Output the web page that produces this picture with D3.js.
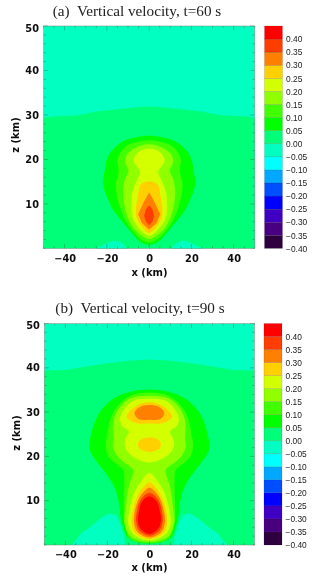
<!DOCTYPE html>
<html><head><meta charset="utf-8">
<script src="https://cdn.jsdelivr.net/npm/d3@7"></script>
<style>html,body{margin:0;padding:0;background:#fff}svg{display:block}</style>
</head><body><svg id="c" width="320" height="580"></svg>
<script>
// Colour key
const bandEdges = [-0.35,-0.30,-0.25,-0.20,-0.15,-0.10,-0.05,0,0.05,0.10,0.15,0.20,0.25,0.30,0.35,0.40];
const bandColors = ["#2e0040","#480080","#4000c4","#0000ff","#0050ff","#00a8ff","#00ffff","#00ffc0","#00ff78","#00ff00","#40ff00","#90ff00","#d4ff00","#ffd000","#ff8000","#ff3c00","#ff0000"];
const barTicks = [-0.40,-0.35,-0.30,-0.25,-0.20,-0.15,-0.10,-0.05,0,0.05,0.10,0.15,0.20,0.25,0.30,0.35,0.40];
const xMajor = [-40,-20,0,20,40];
const zMajor = [10,20,30,40,50];

// Contour outlines: right half, [x km, z km], top to bottom (field is symmetric about x=0)
const a000 = [[0,31.9],[5,31.8],[15,31.3],[25,30.8],[30,30.3],[35,29.9],[45,29.7],[50,29.4],[50,0],[0,0]];
const aLobe = [[10.5,-0.5],[10.5,0],[12,0.8],[14,1.5],[16.5,1.8],[19,1.4],[22,0.7],[25.5,0],[25.5,-0.5]];
const a005 = [[0,25.3],[6,25],[11.4,24.3],[16,22.8],[19.6,20.6],[21,17.6],[21.7,14.2],[20,11.6],[17,8.6],[12,5.6],[8.2,3.4],[4.3,1.5],[0,0.8]];
const a010 = [[0,24.3],[5,24],[9,23.5],[13,22],[15,19.9],[14.5,18],[14.5,17.2],[15.8,14.6],[15.5,12.5],[14,9.5],[12,7],[9.3,4.8],[6,2.9],[3,1.8],[0,1.35]];
const a015 = [[0,23.4],[4,23.1],[8,22.2],[10.6,21],[11.4,19.5],[9.8,17.4],[11.5,15.5],[12.3,13],[12,10.5],[10.5,7.5],[8,5],[5,3.4],[0,2.1]];
const a020 = [[0,22.4],[3.5,22.1],[6.3,21],[7.4,19.7],[5.8,18.4],[4.3,17.3],[5.4,15.7],[7.7,13.1],[8.5,10.1],[8,7.1],[5.5,4.9],[0,2.8]];
const a025 = [[0,15.1],[2.5,14.9],[4.3,14.2],[5.4,11.6],[6.3,8.6],[5.8,6.7],[3.5,4.9],[0,3.4]];
const a030 = [[0,12.6],[2.5,10.5],[5.2,7.7],[3.5,5.7],[0,4.2]];
const a035 = [[0,9.7],[1.5,8.8],[2.4,7.3],[1.5,6],[0,5.2]];
const panelA = [[0.05,a005],[0.10,a010],[0.15,a015],[0.20,a020],[0.25,a025],[0.30,a030],[0.35,a035]];

const b000 = [[0,41.9],[10,41.6],[20,41],[30,40.3],[40,39.5],[50,39.4],[50,0],[0,0]];
const bLobe = [[11.5,-0.5],[11.5,0],[12,2],[13.9,4.9],[15.8,6.8],[19.4,7.1],[23.4,6],[28,4.1],[33,2.5],[35,1],[37,0],[37,-0.5]];
const b005 = [[0,35.1],[9,34.6],[16.9,33.1],[24,29.7],[28,24.4],[28.3,21.4],[25.6,19.2],[22,17],[19,15],[16.3,12.7],[14.5,9.4],[13.8,6.5],[12.5,4],[10.5,1.8],[6,0.6],[0,0.3]];
const b010 = [[0,34.4],[9,33.7],[15,31.5],[18.5,28.5],[20,25],[20.8,22.5],[19.5,20],[15,18],[12.5,16.9],[12,14],[12.2,9.4],[12.2,6],[11.5,4],[9.5,1.6],[5,0.6],[0,0.45]];
const b015 = [[0,33.7],[9,33.1],[14.5,30.8],[17,28],[17,24],[17.3,22],[15,19.9],[12,18.6],[7.8,17],[7.9,16],[9.8,13.2],[11,9.4],[11.8,4.9],[9,1.9],[4,0.9],[0,0.7]];
const b020 = [[0,33],[7.4,32.6],[11.8,30.8],[14,28.6],[13.2,27],[9.8,25.6],[11.6,23.7],[11.3,21.8],[7.4,19.8],[0,18.6]];
const b020low = [[0,16.3],[3.5,14.7],[7,12],[9.5,7.9],[10,4.5],[7.4,2.3],[0,1]];
const b025 = [[0,32.3],[6,31.5],[10.9,29],[7,27.6],[0,27.4]];
const b025mid = [[0,24.3],[4.4,23.7],[5.5,22.6],[4.3,21.6],[0,21]];
const b025low = [[0,14.1],[2.7,13.2],[5.8,10.9],[8,7.5],[8.5,4.9],[6.6,2.6],[0,1.35]];
const b030 = [[0,31.6],[3.5,31.4],[6.2,30.6],[7.1,29.7],[5,28.4],[0,28.3]];
const b030low = [[0,13],[2.7,12],[5,10.5],[7,7.5],[7.4,5.3],[5.8,3],[0,1.7]];
const b035 = [[0,11.8],[4.3,10.1],[6,7.5],[6.3,5.3],[5,3.4],[0,2.1]];
const b040 = [[0,11],[3.5,9.8],[5,7.5],[5.5,5.6],[4.3,3.8],[0,2.5]];
const panelB = [[0.05,b005],[0.10,b010],[0.15,b015],[0.20,b020],[0.20,b020low],[0.25,b025],[0.25,b025mid],[0.25,b025low],[0.30,b030],[0.30,b030low],[0.35,b035],[0.40,b040]];

const bandOf = d3.scaleThreshold().domain(bandEdges.map(d=>d-1e-6)).range(bandColors);
const svg = d3.select("#c");
const defs = svg.append("defs");
defs.append("filter").attr("id","soft").attr("x","-5%").attr("y","-5%").attr("width","110%").attr("height","110%")
  .append("feGaussianBlur").attr("stdDeviation",0.45);
defs.append("filter").attr("id","softText").attr("x","-5%").attr("y","-20%").attr("width","110%").attr("height","140%")
  .append("feGaussianBlur").attr("stdDeviation",0.3);

const mirror = pts => pts.concat(pts.slice().reverse().filter(p=>p[0]!==0).map(p=>[-p[0],p[1]]));

function panel(o){
  const x = d3.scaleLinear().domain([-50,50]).range([o.l,o.r]);
  const z = d3.scaleLinear().domain([0,50]).range([o.b,o.t]);
  const smooth = d3.line().x(d=>x(d[0])).y(d=>z(d[1])).curve(d3.curveCatmullRomClosed.alpha(0.5));
  const straight = d3.line().x(d=>x(d[0])).y(d=>z(d[1])).curve(d3.curveLinearClosed);
  const id = "clip"+o.key;
  defs.append("clipPath").attr("id",id).append("rect").attr("x",o.l).attr("y",o.t).attr("width",o.r-o.l).attr("height",o.b-o.t);

  const g = svg.append("g").attr("filter","url(#soft)");
  const f = g.append("g").attr("clip-path",`url(#${id})`);
  f.append("rect").attr("x",o.l).attr("y",o.t).attr("width",o.r-o.l).attr("height",o.b-o.t).attr("fill",bandOf(-0.01));
  f.append("path").attr("d",straight(mirror(o.base))).attr("fill",bandOf(0.01));
  [o.lobe,o.lobe.map(p=>[-p[0],p[1]])].forEach(l=>f.append("path").attr("d",straight(l)).attr("fill",bandOf(-0.01)));
  o.levels.forEach(([lv,pts])=>{
    const gen = o.sharp.includes(pts) ? straight : smooth;
    f.append("path").attr("d",gen(mirror(pts))).attr("fill",bandOf(lv+0.01));
  });

  // inward ticks on all four sides
  const xMinor = d3.range(-50,51,5), zMinor = d3.range(0,51,2);
  const ticks = g.append("g").attr("stroke","#0a3a20").attr("stroke-width",0.6).attr("stroke-opacity",0.5);
  xMinor.forEach(v=>{
    const L = xMajor.includes(v)?4.5:2.2;
    ticks.append("line").attr("x1",x(v)).attr("x2",x(v)).attr("y1",o.b).attr("y2",o.b-L);
    ticks.append("line").attr("x1",x(v)).attr("x2",x(v)).attr("y1",o.t).attr("y2",o.t+L);
  });
  zMinor.forEach(v=>{
    const L = zMajor.includes(v)?4.5:2.2;
    ticks.append("line").attr("y1",z(v)).attr("y2",z(v)).attr("x1",o.l).attr("x2",o.l+L);
    ticks.append("line").attr("y1",z(v)).attr("y2",z(v)).attr("x1",o.r).attr("x2",o.r-L);
  });
  g.append("rect").attr("x",o.l).attr("y",o.t).attr("width",o.r-o.l).attr("height",o.b-o.t)
    .attr("fill","none").attr("stroke","#6a8a78").attr("stroke-width",0.5);

  const t = svg.append("g").attr("filter","url(#softText)");
  // axes
  const ax = d3.axisBottom(x).tickValues(xMajor).tickSize(0).tickPadding(0);
  const xg = t.append("g").attr("transform",`translate(0,${o.b+6.5})`).call(ax);
  xg.select(".domain").remove();
  xg.selectAll("text").attr("font-family","DejaVu Sans").attr("font-weight","bold").attr("font-size",9.8).attr("fill","#111");
  const az = d3.axisLeft(z).tickValues(zMajor).tickSize(0).tickPadding(0);
  const zg = t.append("g").attr("transform",`translate(${o.l-4.5},0)`).call(az);
  zg.select(".domain").remove();
  zg.selectAll("text").attr("font-family","DejaVu Sans").attr("font-weight","bold").attr("font-size",9.8).attr("fill","#111")
    .attr("dy",d=>d===50?"0.55em":"0.32em");
  t.append("text").text(o.title).attr("x",o.tx).attr("y",o.ty).attr("text-anchor","middle")
    .attr("font-family","Liberation Serif").attr("font-size",15.2).attr("fill","#222").style("white-space","pre");
  t.append("text").text("x (km)").attr("x",o.xlx).attr("y",o.xly).attr("text-anchor","middle")
    .attr("font-family","DejaVu Sans").attr("font-weight","bold").attr("font-size",10).attr("fill","#111");
  t.append("text").text("z (km)").attr("transform",`translate(${o.zlx},${o.zly}) rotate(-90)`).attr("text-anchor","middle")
    .attr("font-family","DejaVu Sans").attr("font-weight","bold").attr("font-size",10).attr("fill","#111");

  // colour bar
  const c = d3.scaleLinear().domain([-0.40,0.45]).range([o.b,o.t]);
  const stops = [-0.40].concat(bandEdges,[0.45]);
  const bar = svg.append("g").attr("filter","url(#softText)");
  bandColors.forEach((col,i)=>{
    bar.append("rect").attr("x",o.bx).attr("width",o.bw).attr("y",c(stops[i+1])).attr("height",c(stops[i])-c(stops[i+1]))
      .attr("fill",col).attr("stroke","#333").attr("stroke-opacity",0.35).attr("stroke-width",0.4);
  });
  const cg = t.append("g").attr("transform",`translate(${o.bx+o.bw+3.5},0)`)
    .call(d3.axisRight(c).tickValues(barTicks).tickFormat(d3.format(".2f")).tickSize(0).tickPadding(0));
  cg.select(".domain").remove();
  cg.selectAll("text").attr("font-family","Liberation Sans").attr("font-size",8.4).attr("fill","#222");
}

panel({key:"a",l:43.5,r:254.8,t:26,b:248.4,base:a000,lobe:aLobe,levels:panelA,sharp:[a030,a035],
  title:"(a)  Vertical velocity, t=60 s",tx:137,ty:16,xlx:149.5,xly:275.5,zlx:18.5,zly:135,bx:264.5,bw:18});
panel({key:"b",l:44.3,r:254.5,t:323.5,b:545,base:b000,lobe:bLobe,levels:panelB,sharp:[],
  title:"(b)  Vertical velocity, t=90 s",tx:140,ty:313,xlx:149.5,xly:571,zlx:20,zly:433,bx:264,bw:18});
</script></body></html>
